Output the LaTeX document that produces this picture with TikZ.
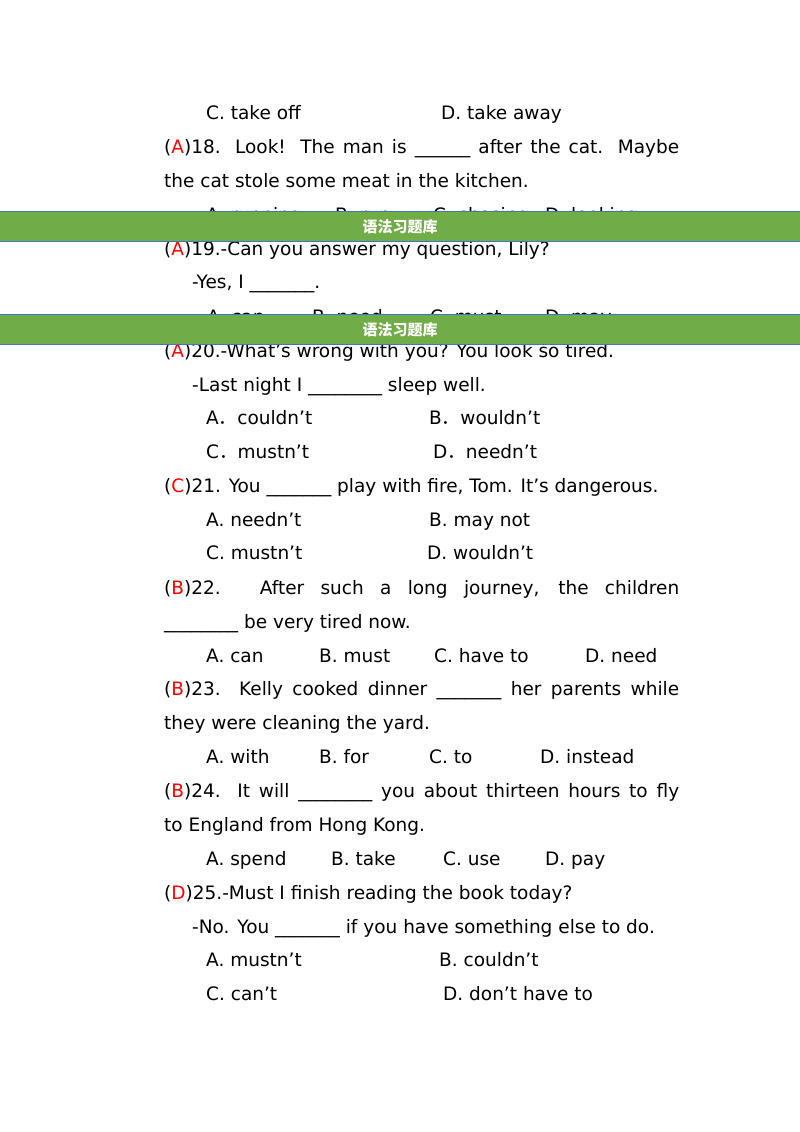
\documentclass[tikz,border=0pt]{standalone}
\usepackage{fontspec}
\setmainfont{DejaVu Sans}
\newfontfamily\cjk{Noto Sans CJK SC}
\definecolor{bgreen}{HTML}{70AD47}
\definecolor{bblue}{HTML}{4472C4}
\begin{document}
\begin{tikzpicture}[x=1pt,y=-1pt,
  t/.style={anchor=base west,inner sep=0pt,font=\fontsize{18.5}{20}\selectfont},
  banner/.style={fill=bgreen,draw=none}]
\useasboundingbox (0,0) rectangle (800,1132);
\fill[white] (0,0) rectangle (800,1132);
\newcommand\J[1]{\makebox[515pt][s]{#1}}
\newcommand\R[1]{(\textcolor{red}{#1})}
\newcommand\FD{{\cjk ．}}
% q17 options
\node[t] (a1) at (206,119) {C. take off};
\node[t] (a2) at (441,119) {D. take away};
% 18
\node[t] (b1) at (164,153) {\J{\R{A}18. Look! The man is \_\_\_\_\_\_ after the cat. Maybe}};
\node[t] (b2) at (164,187) {the cat stole some meat in the kitchen.};
\node[t] (b3) at (206,221) {A. running};
\node[t] (b4) at (335,221) {B. run};
\node[t] (b5) at (433,221) {C. chasing};
\node[t] (b6) at (545,221) {D. looking};
% 19
\node[t] (c1) at (164,255) {\R{A}19.-Can you answer my question, Lily?};
\node[t] (c2) at (192,288) {-Yes, I \_\_\_\_\_\_\_.};
\node[t] (c3) at (207,323) {A. can};
\node[t] (c4) at (312,323) {B. need};
\node[t] (c5) at (430,323) {C. must};
\node[t] (c6) at (545,323) {D. may};
% 20
\node[t] (d1) at (164,357) {\R{A}20.-What's wrong with you? You look so tired.};
\node[t] (d2) at (192,391) {-Last night I \_\_\_\_\_\_\_\_ sleep well.};
\node[t] (d3) at (206,424) {A\FD couldn't};
\node[t] (d4) at (429,424) {B\FD wouldn't};
\node[t] (d5) at (206,458) {C\FD mustn't};
\node[t] (d6) at (433,458) {D\FD needn't};
% 21
\node[t] (e1) at (164,492) {\R{C}21. You \_\_\_\_\_\_\_ play with fire, Tom. It's dangerous.};
\node[t] (e2) at (206,526) {A. needn't};
\node[t] (e3) at (429,526) {B. may not};
\node[t] (e4) at (206,559) {C. mustn't};
\node[t] (e5) at (427,559) {D. wouldn't};
% 22
\node[t] (f1) at (164,594) {\J{\R{B}22. After such a long journey, the children}};
\node[t] (f2) at (164,628) {\_\_\_\_\_\_\_\_ be very tired now.};
\node[t] (f3) at (206,662) {A. can};
\node[t] (f4) at (319,662) {B. must};
\node[t] (f5) at (434,662) {C. have to};
\node[t] (f6) at (585,662) {D. need};
% 23
\node[t] (g1) at (164,695) {\J{\R{B}23. Kelly cooked dinner \_\_\_\_\_\_\_ her parents while}};
\node[t] (g2) at (164,729) {they were cleaning the yard.};
\node[t] (g3) at (206,763) {A. with};
\node[t] (g4) at (319,763) {B. for};
\node[t] (g5) at (429,763) {C. to};
\node[t] (g6) at (540,763) {D. instead};
% 24
\node[t] (h1) at (164,797) {\J{\R{B}24. It will \_\_\_\_\_\_\_\_ you about thirteen hours to fly}};
\node[t] (h2) at (164,831) {to England from Hong Kong.};
\node[t] (h3) at (206,865) {A. spend};
\node[t] (h4) at (331,865) {B. take};
\node[t] (h5) at (443,865) {C. use};
\node[t] (h6) at (545,865) {D. pay};
% 25
\node[t] (i1) at (164,899) {\R{D}25.-Must I finish reading the book today?};
\node[t] (i2) at (192,933) {-No. You \_\_\_\_\_\_\_ if you have something else to do.};
\node[t] (i3) at (206,966) {A. mustn't};
\node[t] (i4) at (439,966) {B. couldn't};
\node[t] (i5) at (206,1000) {C. can't};
\node[t] (i6) at (443,1000) {D. don't have to};
% banners
\foreach \y/\n in {211/ba,314/bb}{
  \fill[bgreen] (0,\y) rectangle (800,\y+30);
  \draw[bblue,line width=1pt] (0,\y) -- (800,\y);
  \draw[bblue,line width=1pt] (0,\y+30) -- (800,\y+30);
  \node[text=white,font=\cjk\bfseries\fontsize{15}{17}\selectfont] (\n) at (400,\y+16) {语法习题库};
}
\end{tikzpicture}
\end{document}
